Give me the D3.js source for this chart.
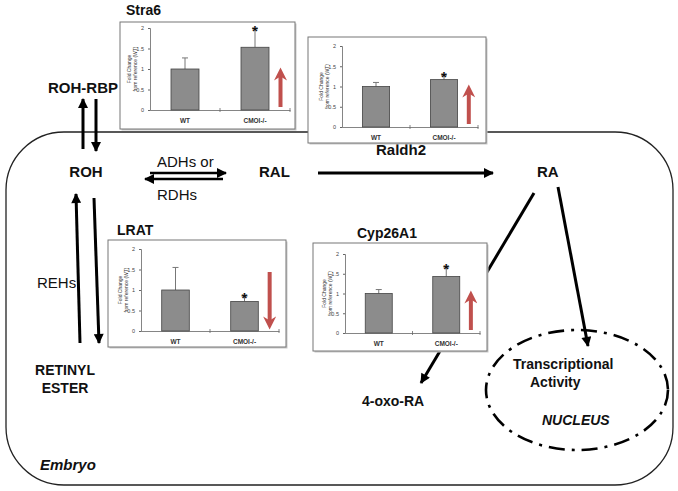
<!DOCTYPE html>
<html><head><meta charset="utf-8">
<script src="https://cdn.jsdelivr.net/npm/d3@7"></script>
<style>body{margin:0;background:#fff}svg text{font-family:"Liberation Sans",Arial,sans-serif}</style>
</head><body><svg id="c" width="678" height="491"></svg>
<script>
// ---- data ----
const groups = ["WT", "CMOI-/-"];
const genes = ["Stra6", "Raldh2", "LRAT", "Cyp26A1"];
const geneTitles = ["Stra6", "", "LRAT", "Cyp26A1"];
const foldChange = [[1.0, 1.53], [1.0, 1.17], [1.0, 0.72], [1.0, 1.43]];
const errorTop = [[1.27, 1.98], [1.10, 1.28], [1.55, 0.85], [1.10, 1.67]];
const significant = [[false, true], [false, true], [false, true], [false, true]];
const direction = ["up", "up", "down", "up"];
const yTicks = [0, 0.5, 1, 1.5, 2];
const yTickLabels = ["0", "0.5", "1", "1.5", "2"];
const yAxisTitle = ["Fold Change", "from reference (WT)"];

// ---- layout (positions only) ----
const panels = [
  {bx:120, by:22, bw:175, bh:107, ax:150, xe:290, y0:110, y2:28, tx:126, ty:15},
  {bx:308, by:37, bw:178, bh:106, ax:342, xe:478, y0:127, y2:46},
  {bx:108, by:240, bw:178, bh:107, ax:141, xe:279, y0:331, y2:249, tx:117, ty:235},
  {bx:313, by:243, bw:174, bh:108, ax:345, xe:480, y0:333, y2:254, tx:357, ty:238}
];

const svg = d3.select("#c");
const defs = svg.append("defs");
defs.append("marker").attr("id","ah").attr("viewBox","0 0 10 10").attr("refX",9).attr("refY",5)
  .attr("markerWidth",11).attr("markerHeight",10).attr("markerUnits","userSpaceOnUse").attr("orient","auto")
  .append("path").attr("d","M0,0L10,5L0,10z").attr("fill","#000");
defs.append("marker").attr("id","rh").attr("viewBox","0 0 10 10").attr("refX",5).attr("refY",5)
  .attr("markerWidth",15).attr("markerHeight",13).attr("markerUnits","userSpaceOnUse").attr("orient","auto")
  .append("path").attr("d","M0,0L10,5L0,10L3,5z").attr("fill","#c0504d");

// embryo boundary
svg.append("rect").attr("x",6).attr("y",132).attr("width",667).attr("height",353)
  .attr("rx",58).attr("ry",58).attr("fill","none").attr("stroke","#222").attr("stroke-width",1.3);

function arrow(x1,y1,x2,y2,w){
  svg.append("line").attr("x1",x1).attr("y1",y1).attr("x2",x2).attr("y2",y2)
    .attr("stroke","#000").attr("stroke-width",w||3).attr("marker-end","url(#ah)");
}
function label(t,x,y,opt){
  opt=opt||{};
  svg.append("text").attr("x",x).attr("y",y).text(t)
    .attr("font-size",opt.size||14).attr("font-weight",opt.w||"bold")
    .attr("font-style",opt.it?"italic":"normal")
    .attr("text-anchor",opt.a||"start").attr("fill","#111");
}

// pathway arrows
arrow(83,149,83,99);
arrow(96,99,96,151);
arrow(150,173,226,173,2.5);
arrow(223,179,145,179,2.5);
arrow(318,173,493,173);
arrow(80,343,76,194);
arrow(94,198,99,343);
// RA -> Cyp26A1 -> 4-oxo-RA
arrow(534,193,421,383);
// RA -> nucleus
arrow(558,187,588,346);

// nucleus
svg.append("ellipse").attr("cx",577).attr("cy",390).attr("rx",91).attr("ry",60)
  .attr("fill","none").attr("stroke","#000").attr("stroke-width",2.6)
  .attr("stroke-dasharray","16,7,3,7");

// text labels
label("ROH-RBP",83,93,{a:"middle",size:15});
label("ROH",86,177,{a:"middle",size:15});
label("ADHs or",157,167,{w:"normal",size:15});
label("RDHs",157,200,{w:"normal",size:15});
label("RAL",259,177,{size:15});
label("Raldh2",376,155,{size:15});
label("RA",537,177,{size:15});
label("REHs",37,288,{w:"normal",size:15});
label("RETINYL",65,375,{a:"middle"});
label("ESTER",65,393,{a:"middle"});
label("4-oxo-RA",362,406);
label("Transcriptional",513,369);
label("Activity",530,387);
label("NUCLEUS",542,425,{it:true});
label("Embryo",40,470,{it:true,size:15});

// bar chart panels
panels.forEach((p,i)=>{
  const g = svg.append("g");
  g.append("rect").attr("x",p.bx+1.5).attr("y",p.by+1.5).attr("width",p.bw).attr("height",p.bh).attr("fill","#c8c8c8");
  g.append("rect").attr("x",p.bx).attr("y",p.by).attr("width",p.bw).attr("height",p.bh)
    .attr("fill","#fff").attr("stroke","#777").attr("stroke-width",1);
  if (geneTitles[i]) label(geneTitles[i],p.tx,p.ty);
  const x = d3.scaleBand().domain(groups).range([p.ax,p.xe]).paddingInner(0.6).paddingOuter(0.3);
  const y = d3.scaleLinear().domain([0,2]).range([p.y0,p.y2]);
  // y axis
  const ya = g.append("g").attr("transform",`translate(${p.ax},0)`)
    .call(d3.axisLeft(y).tickValues(yTicks).tickFormat((d,k)=>yTickLabels[k]).tickSize(2).tickPadding(4));
  ya.select(".domain").attr("stroke","#666").attr("stroke-width",0.8);
  ya.selectAll(".tick line").attr("stroke","#666");
  ya.selectAll("text").attr("font-size",5.5).attr("fill","#444").attr("font-family","Liberation Sans, Arial");
  // x axis
  const xa = g.append("g").attr("transform",`translate(0,${p.y0})`)
    .call(d3.axisBottom(x).tickSize(0).tickPadding(8));
  xa.select(".domain").attr("stroke","#666").attr("stroke-width",0.8);
  xa.selectAll("text").attr("font-size",6.5).attr("font-weight","bold").attr("fill","#333").attr("font-family","Liberation Sans, Arial");
  const step = x.step();
  [x(groups[0])+x.bandwidth()+(step-x.bandwidth())/2, p.xe].forEach(tx=>{
    g.append("line").attr("x1",tx).attr("x2",tx).attr("y1",p.y0-2).attr("y2",p.y0+2).attr("stroke","#666").attr("stroke-width",0.8);
  });
  // y title
  const yt = g.append("text").attr("transform",`translate(${p.ax-19},${(p.y0+p.y2)/2}) rotate(-90)`)
    .attr("text-anchor","middle").attr("font-size",5).attr("fill","#333");
  yt.append("tspan").attr("x",0).attr("dy",0).text(yAxisTitle[0]);
  yt.append("tspan").attr("x",0).attr("dy",5.5).text(yAxisTitle[1]);
  // bars
  groups.forEach((gr,k)=>{
    const cx = x(gr)+x.bandwidth()/2;
    g.append("line").attr("x1",cx).attr("x2",cx).attr("y1",y(foldChange[i][k])).attr("y2",y(errorTop[i][k]))
      .attr("stroke","#777").attr("stroke-width",1);
    g.append("line").attr("x1",cx-3).attr("x2",cx+3).attr("y1",y(errorTop[i][k])).attr("y2",y(errorTop[i][k]))
      .attr("stroke","#777").attr("stroke-width",1);
    g.append("rect").attr("x",x(gr)).attr("y",y(foldChange[i][k])).attr("width",x.bandwidth())
      .attr("height",p.y0-y(foldChange[i][k])).attr("fill","#8c8c8c").attr("stroke","#444").attr("stroke-width",0.8);
    if (significant[i][k]) {
      g.append("text").attr("x",cx).attr("y",y(errorTop[i][k])+7).attr("text-anchor","middle")
        .attr("font-size",15).attr("font-weight","bold").attr("fill","#111").text("*");
    }
  });
  // red trend arrow
  const rx = (x(groups[1])+x.bandwidth()+p.xe)/2+1;
  const top = p.y0-41, bot = p.y0-3;
  g.append("line").attr("x1",rx).attr("x2",rx).attr("y1",direction[i]==="up"?bot:top-18).attr("y2",direction[i]==="up"?top+5:bot-5)
    .attr("stroke","#c0504d").attr("stroke-width",4).attr("marker-end","url(#rh)");
});
</script>
</body></html>
